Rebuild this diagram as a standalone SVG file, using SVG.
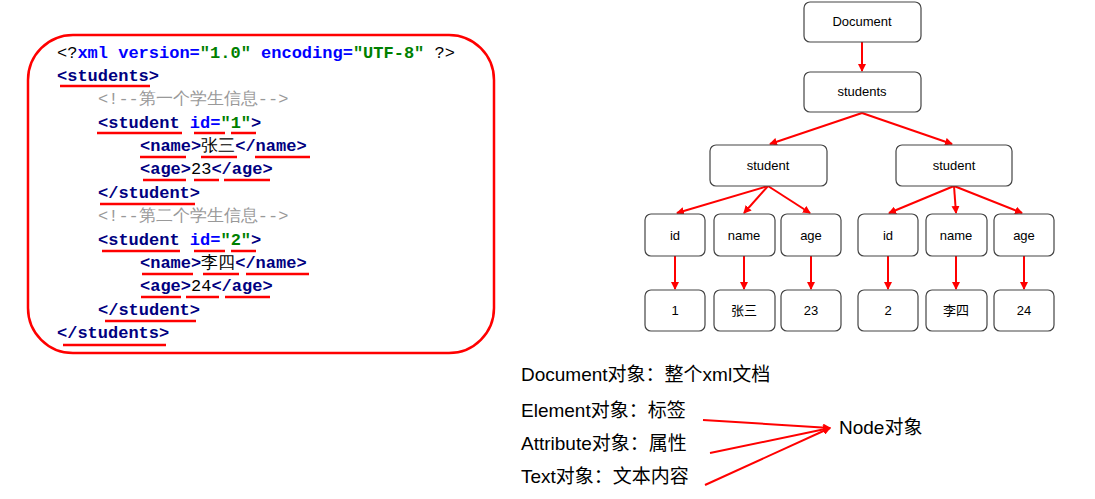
<svg xmlns="http://www.w3.org/2000/svg" width="1095" height="499" viewBox="0 0 1095 499">
<defs>
<marker id="ah" markerWidth="8" markerHeight="8" refX="7" refY="4" orient="auto" markerUnits="userSpaceOnUse"><path d="M0,0 L8,4 L0,8 z" fill="#ff0000"/></marker>
<style>
.code{font-family:"Liberation Mono","DejaVu Sans Mono",monospace;font-size:17px;font-weight:bold}
.t{fill:#000080}.a{fill:#0000ff}.v{fill:#008000}.c{fill:#999;font-weight:normal}.p{fill:#000;font-weight:normal}
.ul{stroke:#ff0000;stroke-width:2.5;fill:none}
.n rect{fill:#fff;stroke:#444;stroke-width:1.2}
.n text{font-family:"Liberation Sans","Noto Sans CJK SC",sans-serif;font-size:13px;text-anchor:middle;fill:#000}
.e{stroke:#ff0000;stroke-width:2;fill:none;marker-end:url(#ah)}
.lbl{font-family:"Liberation Sans","Noto Sans CJK SC",sans-serif;font-size:19px;fill:#000}
</style>
</defs>
<rect width="1095" height="499" fill="#fff"/>
<g id="code">
<rect x="28" y="35" width="466" height="318" rx="45" fill="none" stroke="#ff0000" stroke-width="2.5"/>
<g class="code">
<text x="57" y="58"><tspan class="p">&lt;?</tspan><tspan class="a">xml version=</tspan><tspan class="v">"1.0"</tspan> <tspan class="a">encoding=</tspan><tspan class="v">"UTF-8"</tspan><tspan class="p"> ?&gt;</tspan></text>
<text x="57" y="81" class="t">&lt;students&gt;</text>
<text x="98" y="104" class="c">&lt;!--第一个学生信息--&gt;</text>
<text x="98" y="128"><tspan class="t">&lt;student </tspan><tspan class="a">id=</tspan><tspan class="v">"1"</tspan><tspan class="t">&gt;</tspan></text>
<text x="140" y="151"><tspan class="t">&lt;name&gt;</tspan><tspan class="p">张三</tspan><tspan class="t">&lt;/name&gt;</tspan></text>
<text x="140" y="174"><tspan class="t">&lt;age&gt;</tspan><tspan class="p">23</tspan><tspan class="t">&lt;/age&gt;</tspan></text>
<text x="98" y="198" class="t">&lt;/student&gt;</text>
<text x="98" y="221" class="c">&lt;!--第二个学生信息--&gt;</text>
<text x="98" y="245"><tspan class="t">&lt;student </tspan><tspan class="a">id=</tspan><tspan class="v">"2"</tspan><tspan class="t">&gt;</tspan></text>
<text x="140" y="268"><tspan class="t">&lt;name&gt;</tspan><tspan class="p">李四</tspan><tspan class="t">&lt;/name&gt;</tspan></text>
<text x="140" y="291"><tspan class="t">&lt;age&gt;</tspan><tspan class="p">24</tspan><tspan class="t">&lt;/age&gt;</tspan></text>
<text x="98" y="315" class="t">&lt;/student&gt;</text>
<text x="57" y="338" class="t">&lt;/students&gt;</text>
</g>
<path class="ul" d="M60,86H150 M97,133H182 M194,133H225 M231,133H256 M140,157H186 M201,157H237 M255,157H310 M143,180H186 M194,180H219 M224,180H270 M100,204H195 M102,251H180 M194,251H225 M231,251H256 M142,274H193 M203,274H239 M246,274H309 M141,297H181 M186,297H219 M225,297H270 M105,321H196 M63,345H166"/>
</g>
<g id="connectors">
<path class="e" d="M862,42V71"/>
<path class="e" d="M862,113L770,144"/>
<path class="e" d="M862,113L952,144"/>
<path class="e" d="M768,186L677,213"/>
<path class="e" d="M768,186L744,213"/>
<path class="e" d="M768,186L810,213"/>
<path class="e" d="M954,186L889,213"/>
<path class="e" d="M954,186L956,213"/>
<path class="e" d="M954,186L1022,213"/>
<path class="e" d="M675,256V289"/><path class="e" d="M744,256V289"/><path class="e" d="M811,256V289"/>
<path class="e" d="M888,256V289"/><path class="e" d="M956,256V289"/><path class="e" d="M1024,256V289"/>
<path class="e" d="M703,420L830,428"/>
<path class="e" d="M710,453L830,428"/>
<path class="e" d="M705,485L830,428"/>
</g>
<g id="n-document" class="n"><rect x="804" y="2" width="117" height="40" rx="6"/><text x="862" y="26">Document</text></g>
<g id="n-students" class="n"><rect x="804" y="72" width="117" height="40" rx="6"/><text x="862" y="96">students</text></g>
<g id="n-student1" class="n"><rect x="710" y="145" width="117" height="41" rx="6"/><text x="768" y="170">student</text></g>
<g id="n-student2" class="n"><rect x="896" y="145" width="116" height="41" rx="6"/><text x="954" y="170">student</text></g>
<g id="n-id1" class="n"><rect x="645" y="214" width="60" height="42" rx="6"/><text x="675" y="240">id</text></g>
<g id="n-name1" class="n"><rect x="714" y="214" width="61" height="42" rx="6"/><text x="744" y="240">name</text></g>
<g id="n-age1" class="n"><rect x="781" y="214" width="60" height="42" rx="6"/><text x="811" y="240">age</text></g>
<g id="n-id2" class="n"><rect x="858" y="214" width="60" height="42" rx="6"/><text x="888" y="240">id</text></g>
<g id="n-name2" class="n"><rect x="926" y="214" width="61" height="42" rx="6"/><text x="956" y="240">name</text></g>
<g id="n-age2" class="n"><rect x="994" y="214" width="60" height="42" rx="6"/><text x="1024" y="240">age</text></g>
<g id="n-v1" class="n"><rect x="645" y="290" width="60" height="41" rx="6"/><text x="675" y="315">1</text></g>
<g id="n-v2" class="n"><rect x="714" y="290" width="61" height="41" rx="6"/><text x="744" y="315">张三</text></g>
<g id="n-v3" class="n"><rect x="781" y="290" width="60" height="41" rx="6"/><text x="811" y="315">23</text></g>
<g id="n-v4" class="n"><rect x="858" y="290" width="60" height="41" rx="6"/><text x="888" y="315">2</text></g>
<g id="n-v5" class="n"><rect x="926" y="290" width="61" height="41" rx="6"/><text x="956" y="315">李四</text></g>
<g id="n-v6" class="n"><rect x="994" y="290" width="60" height="41" rx="6"/><text x="1024" y="315">24</text></g>
<g id="legend">
<text class="lbl" x="521" y="381">Document对象：整个xml文档</text>
<text class="lbl" x="521" y="417">Element对象：标签</text>
<text class="lbl" x="521" y="450">Attribute对象：属性</text>
<text class="lbl" x="521" y="483">Text对象：文本内容</text>
<text class="lbl" x="839" y="434">Node对象</text>
</g>
</svg>
